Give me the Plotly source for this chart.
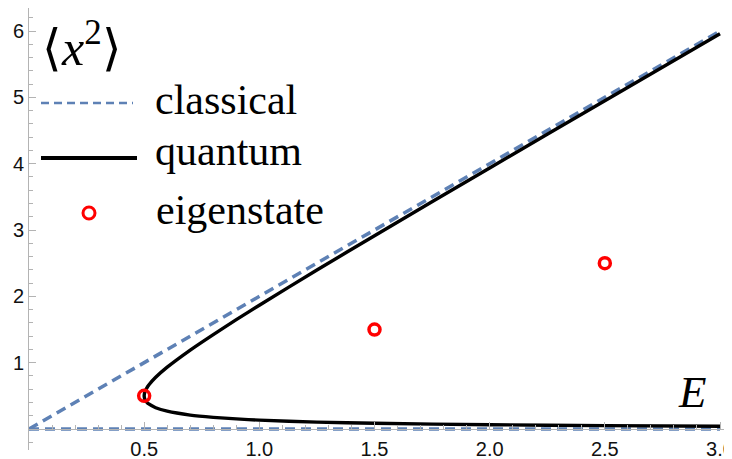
import plotly.graph_objects as go

# ---- data ----
E_classical = [0.0, 3.0]
X_classical_upper = [0.0, 6.0]
X_classical_lower = [0.0, 0.0]

# quantum curve: lower branch (from E=3 back to the turning point) then upper branch
E_quantum = [3.0, 2.5, 2.0, 1.5, 1.25, 1.0, 0.9, 0.8, 0.7, 0.6, 0.55, 0.52, 0.51, 0.505, 0.502, 0.5,
             0.502, 0.505, 0.51, 0.52, 0.55, 0.6, 0.7, 0.8, 0.9, 1.0, 1.25, 1.5, 2.0, 2.5, 3.0]
X_quantum = [0.042, 0.051, 0.064, 0.086, 0.104, 0.134, 0.152, 0.176, 0.21, 0.268, 0.321, 0.377, 0.41, 0.434, 0.457, 0.5,
             0.547, 0.576, 0.61, 0.663, 0.779, 0.932, 1.19, 1.424, 1.648, 1.866, 2.396, 2.914, 3.936, 4.949, 5.958]

E_eigen = [0.5, 1.5, 2.5]
X_eigen = [0.5, 1.5, 2.5]

x_tickvals = [0.5, 1.0, 1.5, 2.0, 2.5, 3.0]
x_ticktext = ["0.5", "1.0", "1.5", "2.0", "2.5", "3.0"]
y_tickvals = [1, 2, 3, 4, 5, 6]
y_ticktext = ["1", "2", "3", "4", "5", "6"]

legend_labels = ["classical", "quantum", "eigenstate"]

BLUE = "#5E81B5"
AXIS = "#B3B3B3"

# page offset (the page body has an 8px margin)
OFF = 8
W, H = 732 - OFF, 459 - OFF
# plot-area edges in page pixels
PL, PR, PT, PB = 29, 732, 8, 450
L, T = PL - OFF, PT - OFF
R = (W + OFF) - PR
B = (H + OFF) - PB
pw, ph = PR - PL, PB - PT
Y0 = 429          # page pixel of y = 0
YS = 66.33        # pixels per y unit


def px(xp):
    return (xp - PL) / pw


def py(yp):
    return (PB - yp) / ph


fig = go.Figure()
fig.add_trace(go.Scatter(x=E_classical, y=X_classical_upper, mode="lines",
                         line=dict(color=BLUE, width=3.5, dash="10px,6px"), showlegend=False, cliponaxis=False))
fig.add_trace(go.Scatter(x=E_classical, y=X_classical_lower, mode="lines",
                         line=dict(color=BLUE, width=3.5, dash="10px,6px"), showlegend=False, cliponaxis=False))
fig.add_trace(go.Scatter(x=E_quantum, y=X_quantum, mode="lines",
                         line=dict(color="black", width=3.4, shape="spline", smoothing=0.6), showlegend=False))
fig.add_trace(go.Scatter(x=E_eigen, y=X_eigen, mode="markers",
                         marker=dict(symbol="circle-open", size=11, color="red", line=dict(color="red", width=3.5)),
                         showlegend=False, cliponaxis=False))

shapes = [
    dict(type="line", xref="paper", yref="paper", x0=px(41), x1=px(133), y0=py(103), y1=py(103),
         line=dict(color=BLUE, width=2.6, dash="8px,5px")),
    dict(type="line", xref="paper", yref="paper", x0=px(41), x1=px(137), y0=py(158), y1=py(158),
         line=dict(color="black", width=4)),
    dict(type="circle", xref="paper", yref="paper", x0=px(83), x1=px(95), y0=py(219), y1=py(207),
         line=dict(color="red", width=3)),
]

serif = "Liberation Serif, Times New Roman, serif"
annotations = [
    dict(text=legend_labels[0], xref="paper", yref="paper", x=px(153), y=py(100), xanchor="left", yanchor="middle",
         showarrow=False, font=dict(family=serif, size=42, color="black")),
    dict(text=legend_labels[1], xref="paper", yref="paper", x=px(153), y=py(151), xanchor="left", yanchor="middle",
         showarrow=False, font=dict(family=serif, size=42, color="black")),
    dict(text=legend_labels[2], xref="paper", yref="paper", x=px(154), y=py(210), xanchor="left", yanchor="middle",
         showarrow=False, font=dict(family=serif, size=42, color="black")),
    dict(text="⟨<i>x</i><sup>2</sup>⟩", xref="paper", yref="paper", x=px(82), y=py(44), xanchor="center",
         yanchor="middle", showarrow=False, font=dict(family=serif, size=50, color="black")),
    dict(text="<i>E</i>", xref="paper", yref="paper", x=px(692), y=py(392), xanchor="center", yanchor="middle",
         showarrow=False, font=dict(family=serif, size=45, color="black")),
]

y_lo = -(PB - Y0) / YS
y_hi = (Y0 - PT) / YS

tickfont = dict(family="Liberation Sans, Arial, sans-serif", size=20, color="#111")

fig.update_layout(
    width=W, height=H,
    margin=dict(l=L, r=R, t=T, b=B, pad=0, autoexpand=False),
    plot_bgcolor="white", paper_bgcolor="white",
    shapes=shapes, annotations=annotations,
    xaxis=dict(range=[0, 3.0 * pw / (720 - PL)], showgrid=False, zeroline=False,
               anchor="free", position=(PB - Y0) / ph, automargin=False,
               showline=True, linecolor=AXIS, linewidth=1,
               tickvals=x_tickvals, ticktext=x_ticktext, ticklabeloverflow="allow",
               ticklabelstandoff=2,
               ticks="inside", ticklen=7, tickcolor=AXIS, tickwidth=1,
               minor=dict(dtick=0.1, tick0=0, ticks="inside", ticklen=4, tickcolor=AXIS),
               tickfont=tickfont),
    yaxis=dict(range=[y_lo, y_hi], showgrid=False, zeroline=False, automargin=False,
               showline=True, linecolor=AXIS, linewidth=1,
               tickvals=y_tickvals, ticktext=y_ticktext, ticklabeloverflow="allow",
               ticks="inside", ticklen=7, tickcolor=AXIS, tickwidth=1,
               minor=dict(dtick=0.2, tick0=0, ticks="inside", ticklen=4, tickcolor=AXIS),
               tickfont=tickfont),
)

fig.write_html("out.html")
